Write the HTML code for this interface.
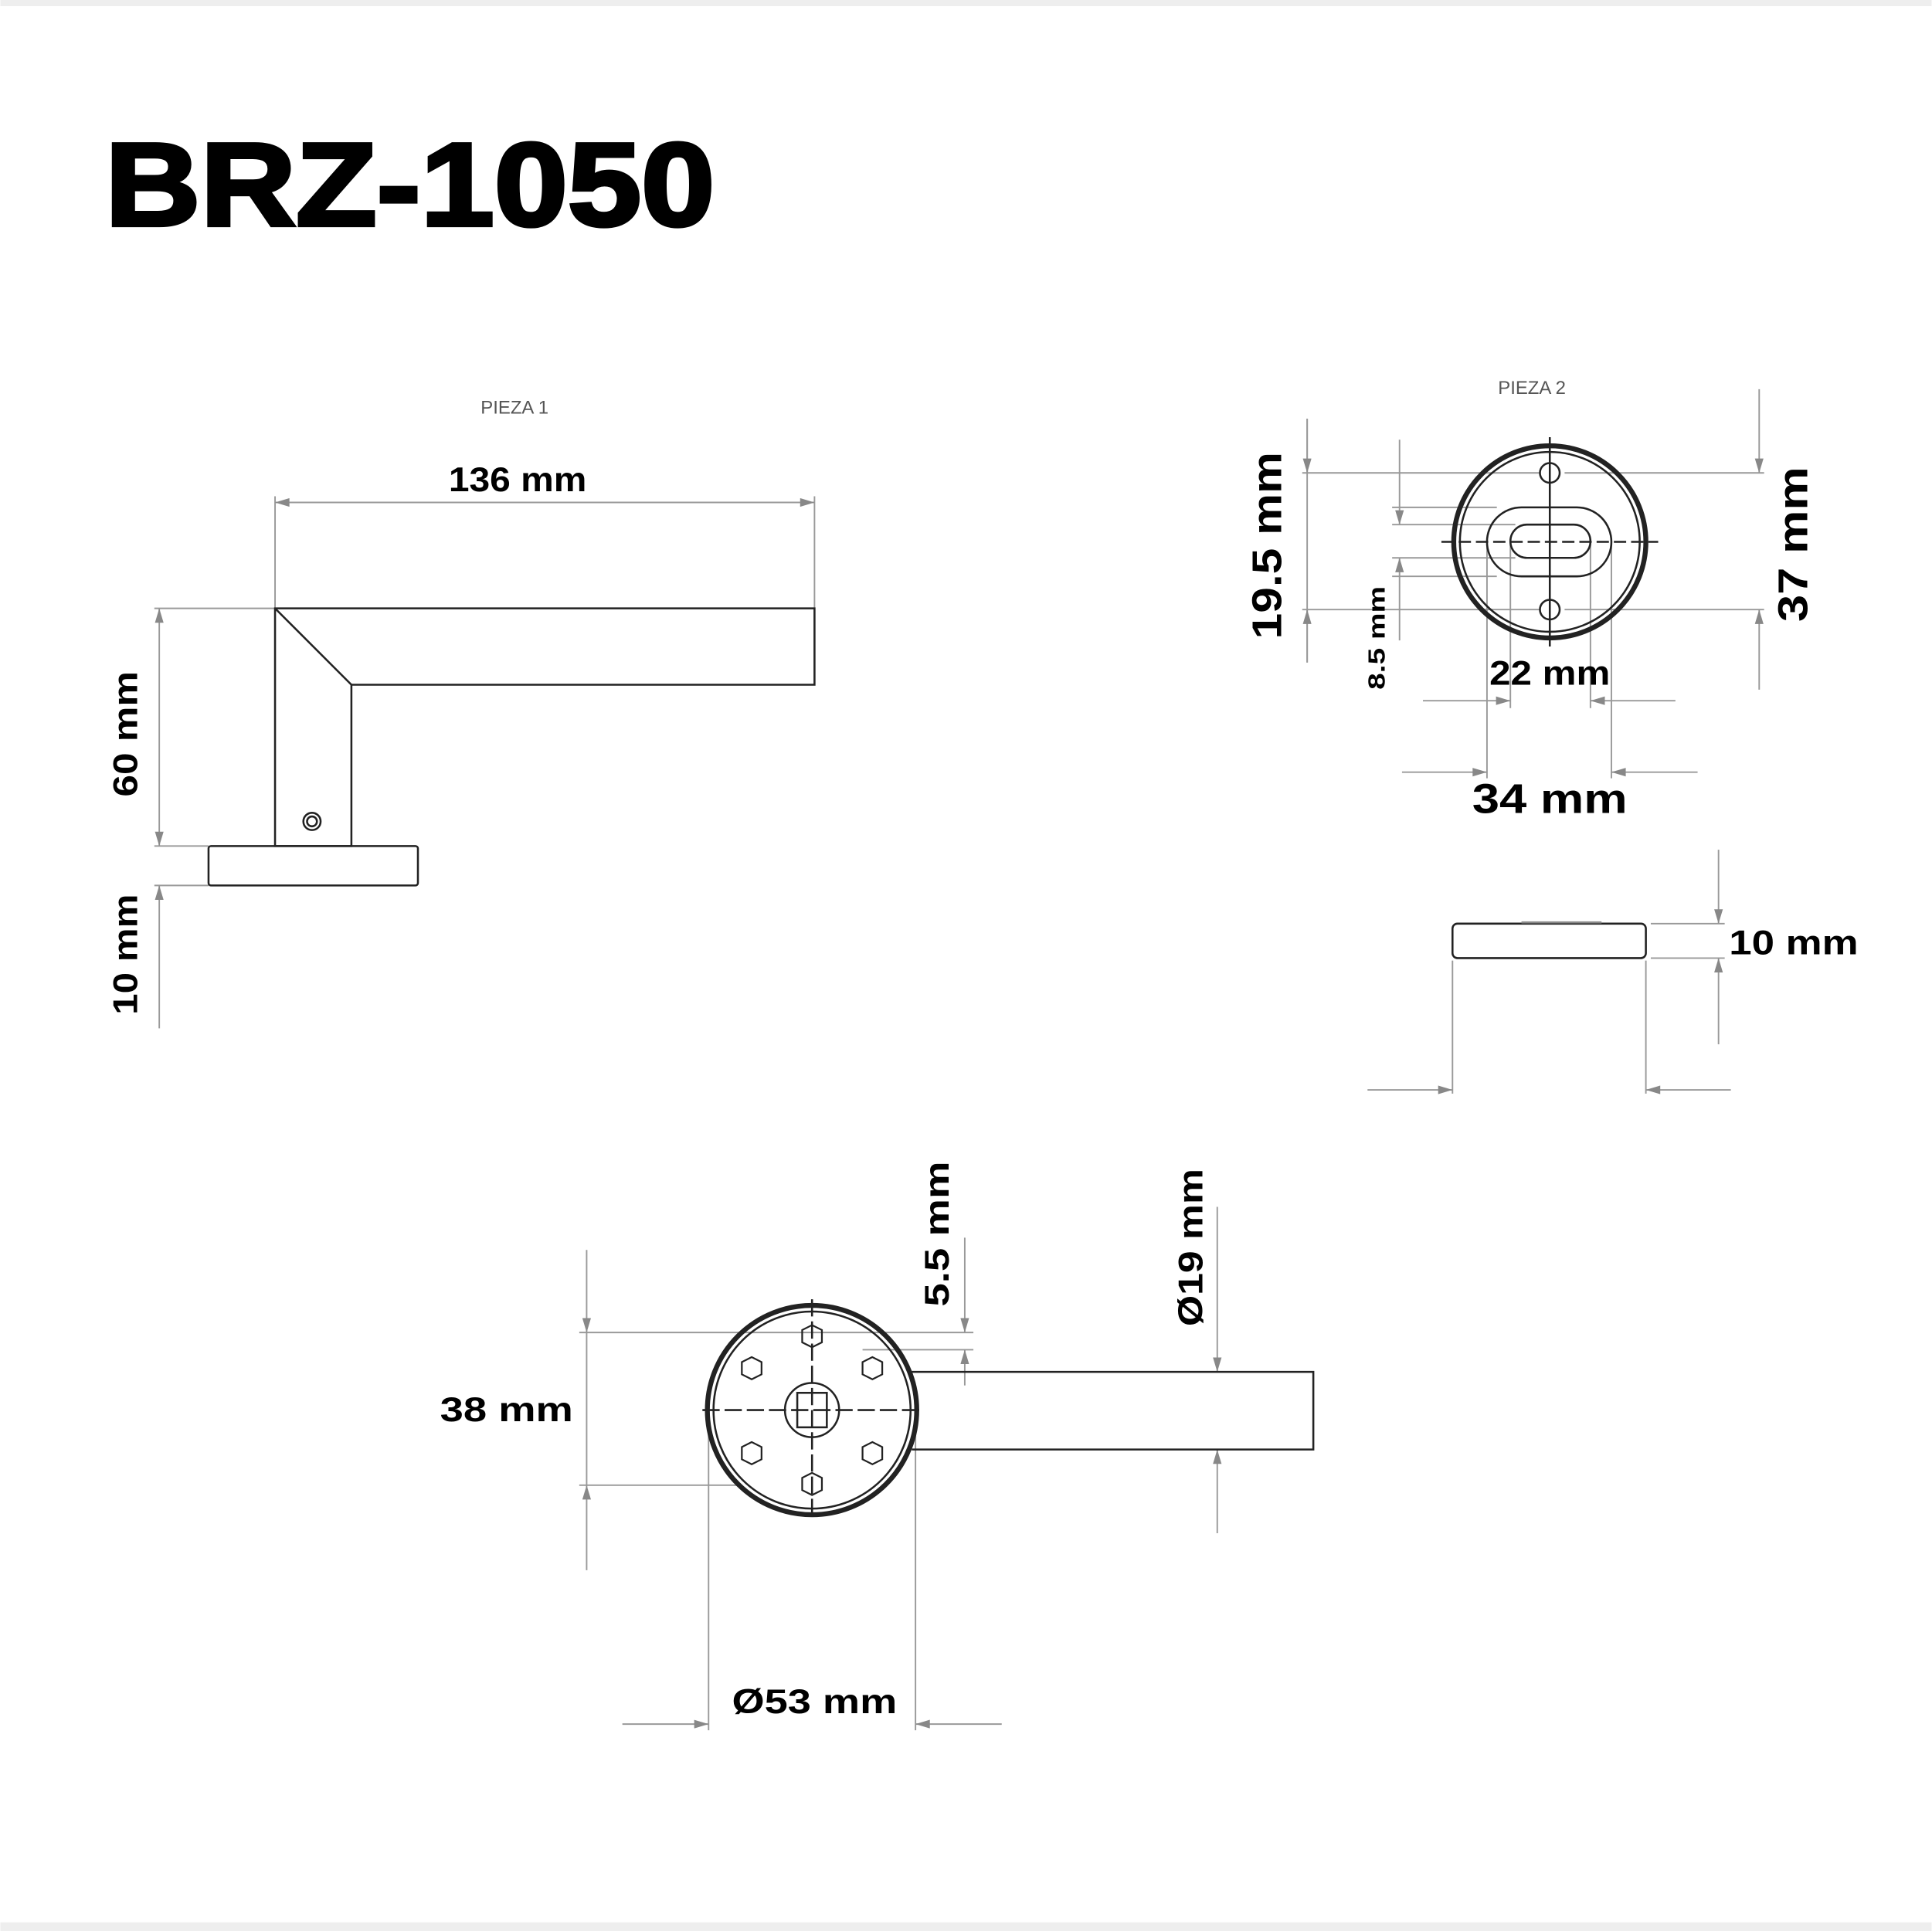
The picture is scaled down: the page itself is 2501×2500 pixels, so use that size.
<!DOCTYPE html>
<html><head><style>html,body{margin:0;padding:0;background:#fff}svg{display:block}</style></head>
<body>
<svg width="2501" height="2500" viewBox="0 0 1568 1568" xmlns="http://www.w3.org/2000/svg" font-family="'Liberation Sans',sans-serif">
<defs>
<marker id="a" viewBox="0 0 10 6" refX="10" refY="3" markerWidth="22" markerHeight="7" markerUnits="userSpaceOnUse" orient="auto-start-reverse"><path d="M0,0L10,3L0,6z" fill="#888"/></marker>
</defs>
<rect x="0" y="0" width="1568" height="5" fill="#eee"/>
<rect x="0" y="1561" width="1568" height="7" fill="#eee"/>
<text x="85" y="183" font-size="96" font-weight="900" textLength="495" lengthAdjust="spacingAndGlyphs" stroke="#000" stroke-width="3">BRZ-1050</text>

<g stroke="#999" stroke-width="1.2" fill="none">
<line x1="223" y1="403" x2="223" y2="494"/><line x1="661" y1="403" x2="661" y2="494"/>
<line x1="223" y1="408" x2="661" y2="408" marker-start="url(#a)" marker-end="url(#a)"/>
<line x1="125" y1="494" x2="223" y2="494"/><line x1="125" y1="687" x2="169" y2="687"/><line x1="125" y1="719" x2="169" y2="719"/>
<line x1="129" y1="494" x2="129" y2="687" marker-start="url(#a)" marker-end="url(#a)"/>
<line x1="129" y1="835" x2="129" y2="719" marker-end="url(#a)"/>
<line x1="1061" y1="340" x2="1061" y2="538"/>
<line x1="1057" y1="384" x2="1250" y2="384"/><line x1="1057" y1="495" x2="1250" y2="495"/>
<line x1="1061" y1="340" x2="1061" y2="384" marker-end="url(#a)"/>
<line x1="1061" y1="538" x2="1061" y2="495" marker-end="url(#a)"/>
<line x1="1136" y1="357" x2="1136" y2="426" marker-end="url(#a)"/>
<line x1="1136" y1="520" x2="1136" y2="453" marker-end="url(#a)"/>
<line x1="1130" y1="412" x2="1215" y2="412"/><line x1="1130" y1="426" x2="1230" y2="426"/><line x1="1130" y1="453" x2="1230" y2="453"/><line x1="1130" y1="468" x2="1215" y2="468"/>
<line x1="1270" y1="384" x2="1432" y2="384"/><line x1="1270" y1="495" x2="1432" y2="495"/>
<line x1="1428" y1="316" x2="1428" y2="384" marker-end="url(#a)"/>
<line x1="1428" y1="560" x2="1428" y2="495" marker-end="url(#a)"/>
<line x1="1207" y1="440" x2="1207" y2="632"/><line x1="1308" y1="440" x2="1308" y2="632"/>
<line x1="1226" y1="440" x2="1226" y2="575"/><line x1="1291" y1="440" x2="1291" y2="575"/>
<line x1="1155" y1="569" x2="1226" y2="569" marker-end="url(#a)"/><line x1="1360" y1="569" x2="1291" y2="569" marker-end="url(#a)"/>
<line x1="1138" y1="627" x2="1207" y2="627" marker-end="url(#a)"/><line x1="1378" y1="627" x2="1308" y2="627" marker-end="url(#a)"/>
<line x1="1340" y1="750" x2="1400" y2="750"/><line x1="1340" y1="778" x2="1400" y2="778"/>
<line x1="1395" y1="690" x2="1395" y2="750" marker-end="url(#a)"/><line x1="1395" y1="848" x2="1395" y2="778" marker-end="url(#a)"/>
<line x1="1179" y1="780" x2="1179" y2="888"/><line x1="1336" y1="780" x2="1336" y2="888"/>
<line x1="1110" y1="885" x2="1179" y2="885" marker-end="url(#a)"/><line x1="1405" y1="885" x2="1336" y2="885" marker-end="url(#a)"/>
<line x1="470" y1="1082" x2="790" y2="1082"/><line x1="470" y1="1206" x2="600" y2="1206"/>
<line x1="476" y1="1015" x2="476" y2="1082" marker-end="url(#a)"/><line x1="476" y1="1275" x2="476" y2="1206" marker-end="url(#a)"/>
<line x1="476" y1="1082" x2="476" y2="1206"/>
<line x1="700" y1="1096" x2="790" y2="1096"/>
<line x1="783" y1="1005" x2="783" y2="1082" marker-end="url(#a)"/><line x1="783" y1="1125" x2="783" y2="1096" marker-end="url(#a)"/>
<line x1="988" y1="980" x2="988" y2="1114" marker-end="url(#a)"/><line x1="988" y1="1245" x2="988" y2="1177" marker-end="url(#a)"/>
<line x1="575" y1="1150" x2="575" y2="1405"/><line x1="743" y1="1150" x2="743" y2="1405"/>
<line x1="505" y1="1400" x2="575" y2="1400" marker-end="url(#a)"/><line x1="813" y1="1400" x2="743" y2="1400" marker-end="url(#a)"/>
</g>

<g stroke="#222" stroke-width="1.6" fill="none">
<path d="M223,494 H661 V556 H285 V687 H223 Z"/>
<line x1="223" y1="494" x2="285" y2="556"/>
<rect x="169" y="687" width="170" height="32" rx="2"/>
<circle cx="253" cy="667" r="7"/><circle cx="253" cy="667" r="4"/>
<circle cx="1258" cy="440" r="78" stroke-width="4"/>
<circle cx="1258" cy="440" r="73"/>
<rect x="1207" y="412" width="101" height="56" rx="28"/>
<rect x="1226" y="426" width="65" height="27" rx="13.5"/>
<circle cx="1258" cy="384" r="8"/><circle cx="1258" cy="495" r="8"/>
<line x1="1258" y1="355" x2="1258" y2="525"/>
<line x1="1170" y1="440" x2="1346" y2="440" stroke-dasharray="10 4"/>
<rect x="1179" y="750" width="157" height="28" rx="4"/>
<line x1="1235" y1="749" x2="1300" y2="749" stroke="#888"/>
<circle cx="659" cy="1145" r="85" stroke-width="4"/>
<circle cx="659" cy="1145" r="80"/>
<path d="M740,1114 H1066 V1177 H740"/>
<line x1="659" y1="1055" x2="659" y2="1235" stroke-dasharray="14 4"/>
<line x1="570" y1="1145" x2="748" y2="1145" stroke-dasharray="14 4"/>
<circle cx="659" cy="1145" r="22"/>
<rect x="647" y="1131" width="24" height="28"/>
<g stroke-width="1.4">
<polygon points="659,1076 667,1080 667,1090 659,1094 651,1090 651,1080"/>
<polygon points="659,1196 667,1200 667,1210 659,1214 651,1210 651,1200"/>
<polygon points="610,1102 618,1106 618,1116 610,1120 602,1116 602,1106"/>
<polygon points="708,1102 716,1106 716,1116 708,1120 700,1116 700,1106"/>
<polygon points="610,1171 618,1175 618,1185 610,1189 602,1185 602,1175"/>
<polygon points="708,1171 716,1175 716,1185 708,1189 700,1185 700,1175"/>
</g>
</g>

<g font-weight="bold" fill="#000">
<text x="390" y="336" font-size="15" font-weight="normal" fill="#555">PIEZA 1</text>
<text x="1216" y="320" font-size="15" font-weight="normal" fill="#555">PIEZA 2</text>
<text x="420" y="399" font-size="28" text-anchor="middle" textLength="112" lengthAdjust="spacingAndGlyphs">136 mm</text>
<text transform="translate(111,596) rotate(-90)" font-size="28" text-anchor="middle" textLength="102" lengthAdjust="spacingAndGlyphs">60 mm</text>
<text transform="translate(111,775) rotate(-90)" font-size="28" text-anchor="middle" textLength="98" lengthAdjust="spacingAndGlyphs">10 mm</text>
<text transform="translate(1040,443) rotate(-90)" font-size="34" text-anchor="middle" textLength="152" lengthAdjust="spacingAndGlyphs">19.5 mm</text>
<text transform="translate(1124,518) rotate(-90)" font-size="19" text-anchor="middle" textLength="84" lengthAdjust="spacingAndGlyphs">8.5 mm</text>
<text transform="translate(1467,442) rotate(-90)" font-size="34" text-anchor="middle" textLength="126" lengthAdjust="spacingAndGlyphs">37 mm</text>
<text x="1258" y="556" font-size="28" text-anchor="middle" textLength="98" lengthAdjust="spacingAndGlyphs">22 mm</text>
<text x="1258" y="660" font-size="34" text-anchor="middle" textLength="126" lengthAdjust="spacingAndGlyphs">34 mm</text>
<text x="1456" y="775" font-size="28" text-anchor="middle" textLength="105" lengthAdjust="spacingAndGlyphs">10 mm</text>
<text x="411" y="1154" font-size="28" text-anchor="middle" textLength="108" lengthAdjust="spacingAndGlyphs">38 mm</text>
<text transform="translate(770,1002) rotate(-90)" font-size="28" text-anchor="middle" textLength="118" lengthAdjust="spacingAndGlyphs">5.5 mm</text>
<text transform="translate(976,1013) rotate(-90)" font-size="28" text-anchor="middle" textLength="128" lengthAdjust="spacingAndGlyphs">Ø19 mm</text>
<text x="661" y="1391" font-size="28" text-anchor="middle" textLength="134" lengthAdjust="spacingAndGlyphs">Ø53 mm</text>
</g>
</svg>
</body></html>
